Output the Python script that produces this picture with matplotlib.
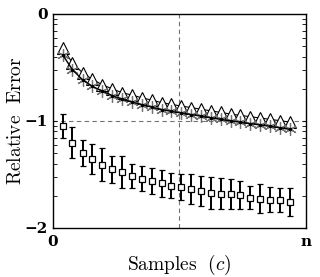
import numpy as np
import matplotlib
matplotlib.use('Agg')
import matplotlib.pyplot as plt
from matplotlib.ticker import FixedLocator

plt.rcParams['mathtext.fontset'] = 'cm'
plt.rcParams['font.family'] = 'DejaVu Serif'

# sample positions (fraction of n)
x = [0.038, 0.077, 0.117, 0.156, 0.195, 0.234, 0.273, 0.312,
     0.351, 0.390, 0.429, 0.468, 0.507, 0.546, 0.585, 0.624,
     0.663, 0.702, 0.741, 0.780, 0.819, 0.858, 0.897, 0.935]

# log10 relative error
tri = [-0.315, -0.459, -0.549, -0.611, -0.661, -0.700, -0.735, -0.758,
       -0.783, -0.805, -0.828, -0.845, -0.860, -0.875, -0.890, -0.905,
       -0.920, -0.935, -0.948, -0.960, -0.972, -0.985, -0.997, -1.010]
star = [-0.381, -0.521, -0.615, -0.677, -0.720, -0.762, -0.798, -0.822,
        -0.847, -0.870, -0.893, -0.910, -0.925, -0.940, -0.955, -0.970,
        -0.985, -0.998, -1.012, -1.025, -1.037, -1.050, -1.063, -1.078]
sq = [-1.048, -1.204, -1.298, -1.357, -1.407, -1.451, -1.476, -1.513,
      -1.538, -1.560, -1.584, -1.607, -1.616, -1.638, -1.650, -1.669,
      -1.678, -1.682, -1.689, -1.715, -1.725, -1.734, -1.741, -1.760]
sq_err = [0.112, 0.144, 0.122, 0.139, 0.150, 0.124, 0.150, 0.111,
          0.116, 0.118, 0.129, 0.117, 0.118, 0.140, 0.140, 0.150,
          0.142, 0.136, 0.132, 0.106, 0.134, 0.118, 0.111, 0.131]

fig = plt.figure(figsize=(3.2, 2.77), dpi=100)
ax = fig.add_axes([0.1656, 0.1769, 0.7906, 0.7726])

ax.axhline(-1, color='0.45', ls=(0, (4, 3)), lw=0.8, zorder=0)
ax.axvline(0.5, color='0.45', ls=(0, (4, 3)), lw=0.8, zorder=0)

ax.plot(x, tri, color='k', lw=0.8, marker='^', ms=9, mfc='white',
        mec='k', mew=0.8, zorder=3)
ax.plot(x, star, color='0.45', lw=0, marker=(6, 2, 0), ms=9, mew=0.9, zorder=4)
ax.plot(x, star, color='k', lw=1.0, marker='.', ms=3, zorder=5)
ax.errorbar(x, sq, yerr=sq_err, fmt='s', ms=5, mfc='white', mec='k', mew=0.9,
            ecolor='k', elinewidth=1.4, capsize=2.5, capthick=1.2, zorder=3)

ax.set_xlim(0, 1)
ax.set_ylim(-2, 0)
ax.set_xticks([0, 1])
ax.set_xticklabels(['0', 'n'], fontsize=11, fontweight='bold')
ax.set_yticks([0, -1, -2])
ax.set_yticklabels(['0', '\u22121', '\u22122'], fontsize=11, fontweight='bold')
minor = [np.log10(k) - d for d in (1, 2) for k in range(2, 10)]
ax.yaxis.set_minor_locator(FixedLocator(minor))
ax.tick_params(axis='y', which='both', direction='in', left=True, right=True,
               length=3, width=0.6, pad=4)
ax.tick_params(axis='x', length=0, pad=5)

for s in ax.spines.values():
    s.set_linewidth(1.0)

ax.set_ylabel(r'$\mathrm{Relative\ \ Error}$', fontsize=14)
ax.set_xlabel(r'$\mathrm{Samples}\ \ (c)$', fontsize=14)
ax.yaxis.set_label_coords(-0.11, 0.5)
ax.xaxis.set_label_coords(0.5, -0.115)

fig.savefig('out.png', dpi=100)
